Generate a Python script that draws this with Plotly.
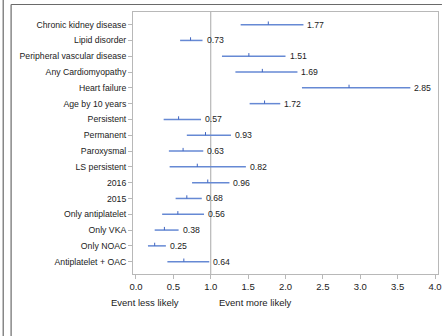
import plotly.graph_objects as go

categories = ["Chronic kidney disease", "Lipid disorder", "Peripheral vascular disease",
              "Any Cardiomyopathy", "Heart failure", "Age by 10 years", "Persistent",
              "Permanent", "Paroxysmal", "LS persistent", "2016", "2015",
              "Only antiplatelet", "Only VKA", "Only NOAC", "Antiplatelet + OAC"]
estimate = [1.77, 0.73, 1.51, 1.69, 2.85, 1.72, 0.57, 0.93, 0.63, 0.82, 0.96, 0.68, 0.56, 0.38, 0.25, 0.64]
lower =    [1.40, 0.59, 1.15, 1.33, 2.22, 1.52, 0.37, 0.68, 0.44, 0.45, 0.75, 0.53, 0.35, 0.25, 0.16, 0.42]
upper =    [2.24, 0.89, 2.00, 2.16, 3.67, 1.93, 0.87, 1.27, 0.90, 1.47, 1.25, 0.88, 0.91, 0.57, 0.40, 0.98]
labels = ["%.2f" % v for v in estimate]
x_ticks = [0.0, 0.5, 1.0, 1.5, 2.0, 2.5, 3.0, 3.5, 4.0]

blue = "#6689d4"
tick_blue = "#3f64bf"
fam = "Liberation Sans, Arial, sans-serif"
font = dict(family=fam, size=8.7, color="#222")
idx = list(range(len(categories)))

fig = go.Figure()
fig.add_trace(go.Scatter(
    x=estimate, y=idx, mode="markers",
    marker=dict(size=1, color=blue, opacity=0),
    error_x=dict(type="data", symmetric=False,
                 array=[u - e for u, e in zip(upper, estimate)],
                 arrayminus=[e - l for e, l in zip(estimate, lower)],
                 color=blue, thickness=1.5, width=0),
    showlegend=False, hoverinfo="skip"))
fig.add_trace(go.Scatter(
    x=estimate, y=idx, mode="markers",
    marker=dict(size=1, color=tick_blue, opacity=0),
    error_y=dict(type="data", symmetric=False, array=[0.0] * len(idx),
                 arrayminus=[0.2] * len(idx), color=tick_blue, thickness=1, width=0),
    showlegend=False, hoverinfo="skip"))

for i, u, t in zip(idx, upper, labels):
    fig.add_annotation(x=u, y=i, text=t, showarrow=False, xanchor="left",
                       xshift=2, font=dict(family=fam, size=8.7, color="#222"))

fig.add_shape(type="line", x0=1, x1=1, y0=0, y1=1, xref="x", yref="paper",
              line=dict(color="#a8a8a8", width=1), layer="below")

W, H = 446, 336
L, R, T, B = 133, 4, 12, 62
pw, ph = W - L - R, H - T - B

def px(x):
    return (x - L) / pw

def py(y):
    return 1 - (y - T) / ph

frame = dict(color="#6a6a6a", width=1.2)
fig.add_shape(type="line", xref="paper", yref="paper", x0=px(1.5), x1=px(1.5), y0=py(0), y1=py(H), line=frame)
fig.add_shape(type="line", xref="paper", yref="paper", x0=px(9.5), x1=px(9.5), y0=py(4.5), y1=py(H), line=frame)
fig.add_shape(type="line", xref="paper", yref="paper", x0=px(9.5), x1=px(W), y0=py(4.5), y1=py(4.5), line=frame)

fig.add_annotation(x=0.6, y=py(302), xref="x", yref="paper", text="Event less likely",
                   showarrow=False, xanchor="right", yanchor="middle",
                   font=dict(family=fam, size=9.5, color="#222"))
fig.add_annotation(x=1.08, y=py(302), xref="x", yref="paper", text="Event more likely",
                   showarrow=False, xanchor="left", yanchor="middle",
                   font=dict(family=fam, size=9.5, color="#222"))

fig.update_layout(
    width=W, height=H, margin=dict(l=L, r=R, t=T, b=B),
    paper_bgcolor="white", plot_bgcolor="white", font=font,
    xaxis=dict(range=[-0.04, 4.04], tickvals=x_ticks, ticktext=["%.1f" % v for v in x_ticks],
               showgrid=False, zeroline=False, showline=True, mirror=True,
               linecolor="#b8b8b8", linewidth=1, ticks="outside", ticklen=4,
               tickcolor="#b8b8b8", tickfont=dict(size=9.5, color="#222")),
    yaxis=dict(range=[15.78, -0.8], tickvals=idx, ticktext=categories,
               showgrid=False, zeroline=False, showline=True,
               mirror=True, linecolor="#b8b8b8", linewidth=1, ticks="outside",
               ticklen=4, tickcolor="#b8b8b8", tickfont=dict(size=8.7, color="#222")),
)
fig.write_html("out.html")
